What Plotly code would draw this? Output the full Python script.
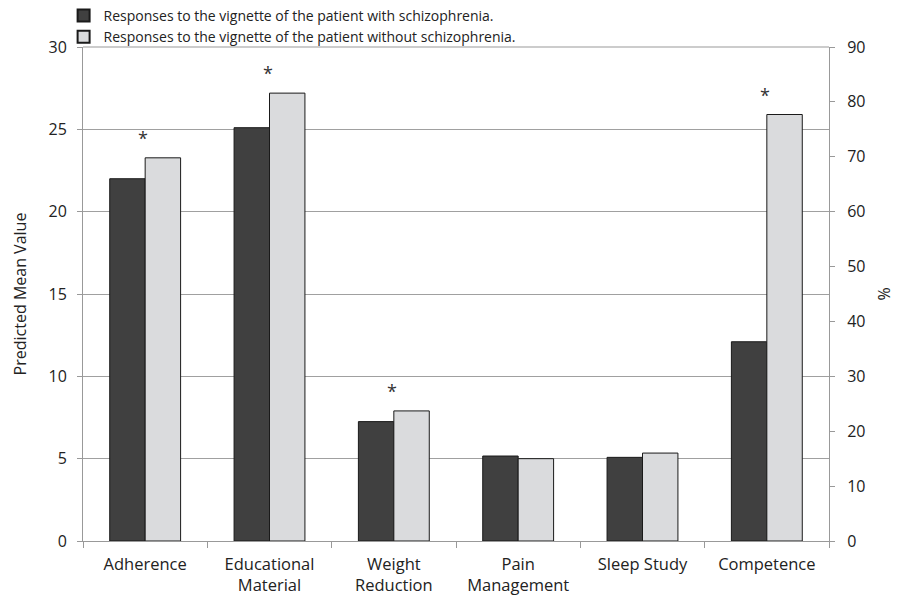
import plotly.graph_objects as go

categories = ["Adherence", "Educational<br>Material", "Weight<br>Reduction", "Pain<br>Management", "Sleep Study", "Competence"]
with_schizo = [22.0, 25.1, 7.25, 5.16, 5.08, None]        # predicted mean value (left axis)
without_schizo = [23.27, 27.2, 7.9, 5.0, 5.34, None]
competence_with = [36.3]       # % (right axis)
competence_without = [77.7]
significant = [True, True, True, False, False, True]
left_ticks = [0, 5, 10, 15, 20, 25, 30]
right_ticks = [0, 10, 20, 30, 40, 50, 60, 70, 80, 90]

name_a = "Responses to the vignette of the patient with schizophrenia."
name_b = "Responses to the vignette of the patient without schizophrenia."
DARK = "#404040"
LIGHT = "#dadbdd"
EDGE = "#1a1a1a"
FONT = "'Open Sans', sans-serif"
W = 0.285

fig = go.Figure()
fig.add_trace(go.Bar(x=categories[:5], y=with_schizo[:5], name=name_a, legendgroup="a",
                     marker=dict(color=DARK, line=dict(color=EDGE, width=1)),
                     width=W, offset=-W, yaxis="y"))
fig.add_trace(go.Bar(x=categories[:5], y=without_schizo[:5], name=name_b, legendgroup="b",
                     marker=dict(color=LIGHT, line=dict(color=EDGE, width=1)),
                     width=W, offset=0, yaxis="y"))
fig.add_trace(go.Bar(x=categories[5:], y=competence_with, name=name_a, legendgroup="a", showlegend=False,
                     marker=dict(color=DARK, line=dict(color=EDGE, width=1)),
                     width=W, offset=-W, yaxis="y2"))
fig.add_trace(go.Bar(x=categories[5:], y=competence_without, name=name_b, legendgroup="b", showlegend=False,
                     marker=dict(color=LIGHT, line=dict(color=EDGE, width=1)),
                     width=W, offset=0, yaxis="y2"))

# significance asterisks
for i, cat in enumerate(categories):
    if not significant[i]:
        continue
    if i < 5:
        yv, yref = without_schizo[i], "y"
    else:
        yv, yref = competence_without[0], "y2"
    fig.add_annotation(x=cat, y=yv, xref="x", yref=yref, text="*", showarrow=False,
                       xshift=-2, yanchor="middle", yshift=20,
                       font=dict(size=18, color="#333", family=FONT))

fig.update_layout(
    width=898, height=599,
    margin=dict(l=83, r=69, t=47, b=58, autoexpand=False),
    paper_bgcolor="white", plot_bgcolor="white",
    barmode="overlay",
    font=dict(family=FONT, size=16, color="#222"),
    showlegend=True,
    legend=dict(x=-0.026, y=1.0 + 47 / 494, xanchor="left", yanchor="top", orientation="v",
                font=dict(size=14, color="#222"), bgcolor="rgba(0,0,0,0)",
                itemsizing="constant", tracegroupgap=0, itemwidth=30),
    xaxis=dict(categoryorder="array", categoryarray=categories, type="category",
               showline=True, linecolor="#999", linewidth=1,
               ticks="outside", tickson="boundaries", ticklen=6, tickcolor="#999",
               showgrid=False, tickfont=dict(size=16.5), range=[-0.5, 5.5],
               ticklabelstandoff=8),
    yaxis=dict(range=[0, 30], tickvals=left_ticks, showgrid=True, gridcolor="#a0a0a0", gridwidth=1,
               showline=True, linecolor="#999", ticks="outside", ticklen=5, tickcolor="#999",
               zeroline=False, tickfont=dict(size=16), ticklabelstandoff=7,
               title=dict(text="Predicted Mean Value", font=dict(size=16), standoff=17)),
    yaxis2=dict(range=[0, 90], tickvals=right_ticks, overlaying="y", side="right", showgrid=False,
                showline=True, linecolor="#999", ticks="outside", ticklen=5, tickcolor="#999",
                zeroline=False, tickfont=dict(size=16), ticklabelstandoff=9,
                title=dict(text="%", font=dict(size=16), standoff=14)),
)
fig.add_shape(type="line", xref="paper", yref="paper", x0=0, x1=1, y0=1, y1=1,
              line=dict(color="#999", width=1))

fig.write_html("out.html", config={"displayModeBar": False},
               post_script="document.body.style.margin='0';")
